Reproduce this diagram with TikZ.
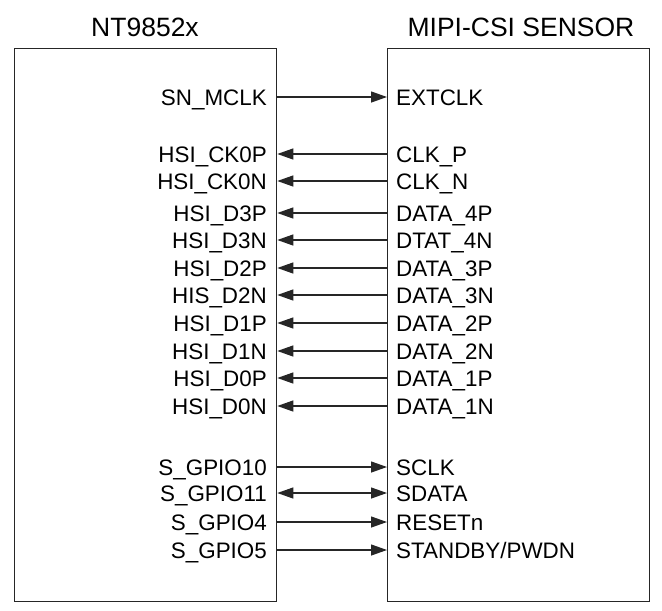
\documentclass[tikz,border=0pt]{standalone}
\usepackage{fontspec}
\setmainfont{Liberation Sans}
\usetikzlibrary{arrows.meta}
\tikzset{
  chipbox/.style={draw=black!85, line width=1.3pt, inner sep=0pt, anchor=north west},
  ttl/.style={anchor=base, inner sep=0pt, font=\fontsize{26.5}{27}\selectfont},
  lpin/.style={anchor=east, inner sep=0pt, text height=16.3pt, text depth=0pt, font=\fontsize{22.4}{23}\selectfont},
  rpin/.style={anchor=west, inner sep=0pt, text height=16.3pt, text depth=0pt, font=\fontsize{22.4}{23}\selectfont},
  wire/.style={line width=1.3pt, draw=black!85},
  tip/.tip={Triangle[length=16pt,width=11pt]},
}
\begin{document}
\begin{tikzpicture}[x=1pt,y=-1pt]
\useasboundingbox (0,0) rectangle (662,611);
\node[chipbox, minimum width=262pt, minimum height=553pt] (L) at (14,48) {};
\node[chipbox, minimum width=262pt, minimum height=553pt] (R) at (387,48) {};
\node[ttl] (tl) at (145,36) {NT9852x};
\node[ttl] (tr) at (521,36) {MIPI-CSI SENSOR};
% pins
\node[lpin] (a1) at (267,97) {SN\_MCLK};   \node[rpin] (b1) at (396,97) {EXTCLK};
\node[lpin] (a2) at (267,154) {HSI\_CK0P}; \node[rpin] (b2) at (396,154) {CLK\_P};
\node[lpin] (a3) at (267,181) {HSI\_CK0N}; \node[rpin] (b3) at (396,181) {CLK\_N};
\node[lpin] (a4) at (267,213) {HSI\_D3P};  \node[rpin] (b4) at (396,213) {DATA\_4P};
\node[lpin] (a5) at (267,240) {HSI\_D3N};  \node[rpin] (b5) at (396,240) {DTAT\_4N};
\node[lpin] (a6) at (267,268) {HSI\_D2P};  \node[rpin] (b6) at (396,268) {DATA\_3P};
\node[lpin] (a7) at (267,295) {HIS\_D2N};  \node[rpin] (b7) at (396,295) {DATA\_3N};
\node[lpin] (a8) at (267,323) {HSI\_D1P};  \node[rpin] (b8) at (396,323) {DATA\_2P};
\node[lpin] (a9) at (267,351) {HSI\_D1N};  \node[rpin] (b9) at (396,351) {DATA\_2N};
\node[lpin] (a10) at (267,378) {HSI\_D0P}; \node[rpin] (b10) at (396,378) {DATA\_1P};
\node[lpin] (a11) at (267,406) {HSI\_D0N}; \node[rpin] (b11) at (396,406) {DATA\_1N};
\node[lpin] (a12) at (267,467) {S\_GPIO10}; \node[rpin] (b12) at (396,467) {SCLK};
\node[lpin] (a13) at (267,493) {S\_GPIO11}; \node[rpin] (b13) at (396,493) {SDATA};
\node[lpin] (a14) at (267,522) {S\_GPIO4};  \node[rpin] (b14) at (396,522) {RESETn};
\node[lpin] (a15) at (267,550) {S\_GPIO5};  \node[rpin] (b15) at (396,550) {STANDBY/PWDN};
% wires
\draw[wire,-tip] (L.east |- a1) -- (R.west |- a1);
\foreach \i in {2,...,11} {\draw[wire,-tip] (R.west |- a\i) -- (L.east |- a\i);}
\draw[wire,-tip] (L.east |- a12) -- (R.west |- a12);
\draw[wire,tip-tip] (L.east |- a13) -- (R.west |- a13);
\draw[wire,-tip] (L.east |- a14) -- (R.west |- a14);
\draw[wire,-tip] (L.east |- a15) -- (R.west |- a15);
\end{tikzpicture}
\end{document}
